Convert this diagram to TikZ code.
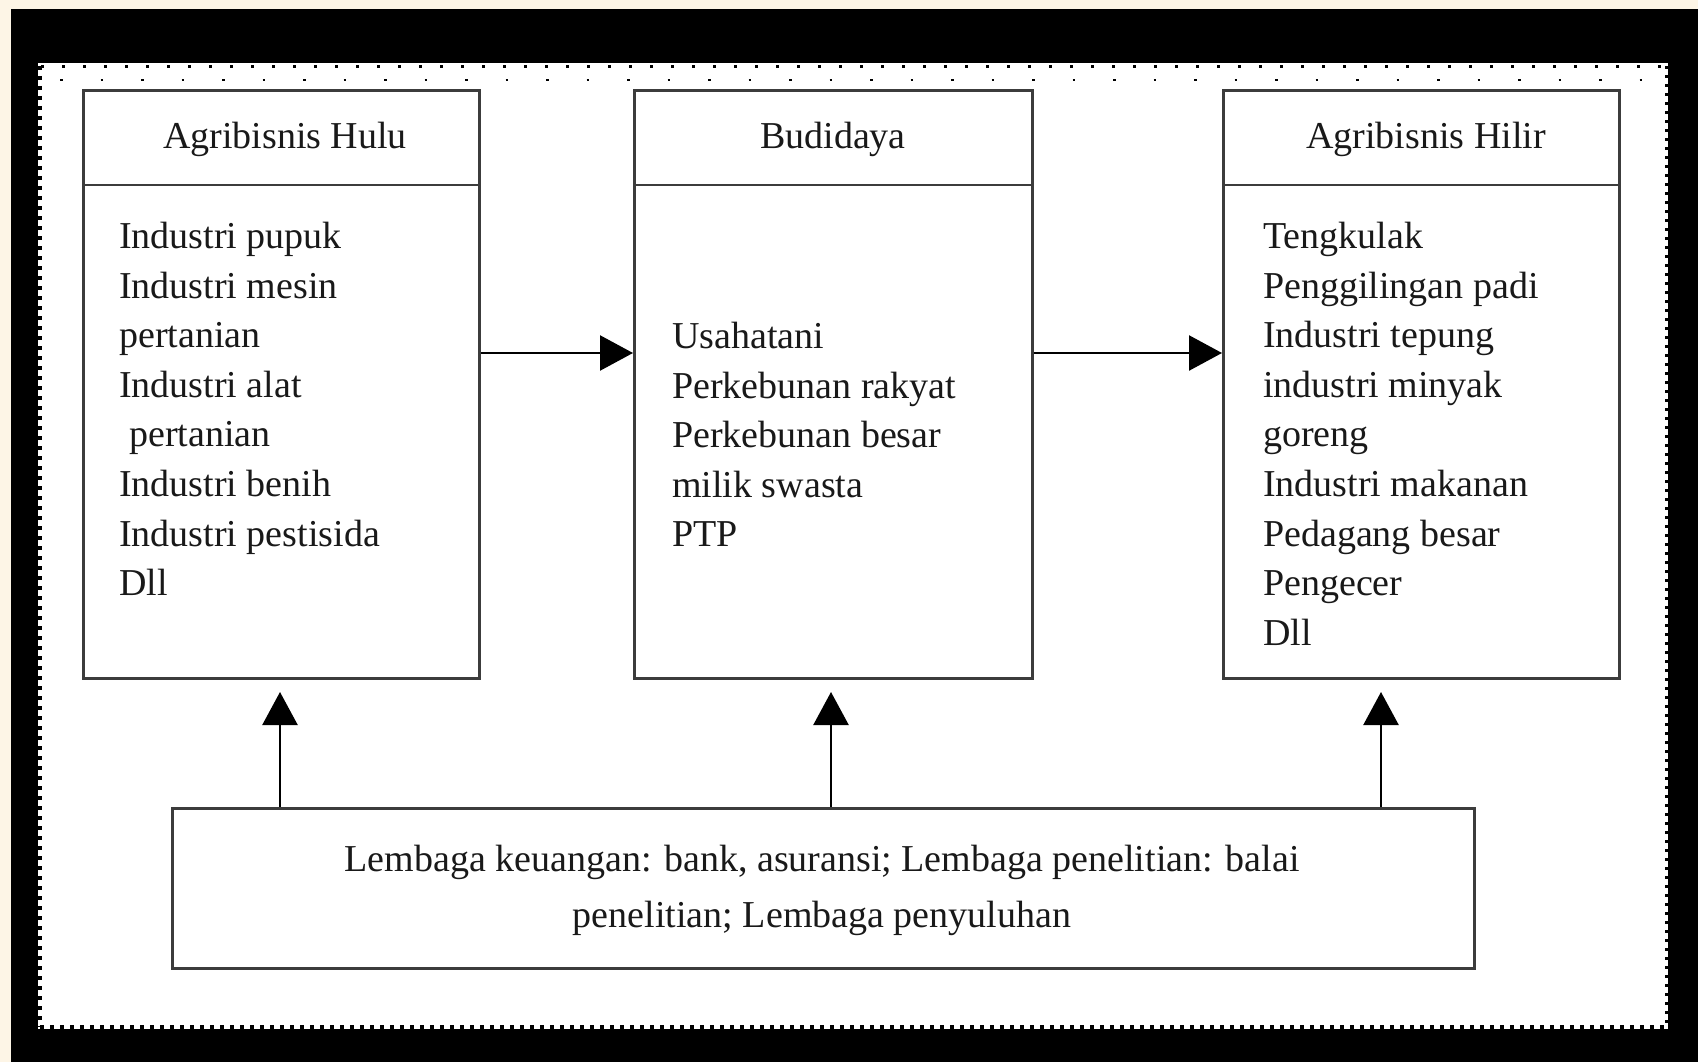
\documentclass[tikz,border=0pt]{standalone}
\usepackage{fontspec}
\setmainfont{Liberation Serif}
\usetikzlibrary{arrows.meta}
\definecolor{cream}{RGB}{253,245,230}
\definecolor{boxline}{RGB}{60,60,60}
\definecolor{txt}{RGB}{25,25,25}
\begin{document}
\begin{tikzpicture}[x=1pt,y=-1pt,
  boxframe/.style={draw=boxline,line width=2.8pt,fill=white},
  divider/.style={draw=boxline,line width=2.8pt},
  head/.style={inner sep=0pt,text=txt,font=\fontsize{38}{49.6}\selectfont},
  body/.style={inner sep=0pt,anchor=north west,align=left,text=txt,font=\fontsize{38}{49.6}\selectfont},
  conn/.style={draw=black,line width=2.4pt,-{Triangle[length=33pt,width=35pt]}},
  teeth/.style={draw=black,line width=6pt,dash pattern=on 4pt off 6pt},
  dots/.style={draw=black,line width=3pt,dash pattern=on 3pt off 18pt}
]
\useasboundingbox (0,0) rectangle (1698,1062);
% background frame
\fill[cream] (0,0) rectangle (1698,1062);
\fill[black] (11,9) rectangle (1698,1062);
\fill[white] (38,63) rectangle (1668,1029);
% dotted border
\draw[dots] (41,67) -- (1666,67);
\draw[draw=black,line width=2.5pt,dash pattern=on 2.5pt off 38pt] (60,80) -- (1660,80);
\draw[teeth] (39,66) -- (39,1027);
\draw[teeth] (40,1028) -- (1667,1028);
\draw[draw=black,line width=4pt,dash pattern=on 3pt off 6pt] (1667,66) -- (1667,1027);

% upper boxes
\node[boxframe,minimum width=396pt,minimum height=588pt,anchor=north west,inner sep=0pt] (hulu) at (82,89) {};
\node[boxframe,minimum width=398pt,minimum height=588pt,anchor=north west,inner sep=0pt] (budi) at (633,89) {};
\node[boxframe,minimum width=396pt,minimum height=588pt,anchor=north west,inner sep=0pt] (hilir) at (1222,89) {};
\draw[divider] (hulu.west |- 0,185) -- (hulu.east |- 0,185);
\draw[divider] (budi.west |- 0,185) -- (budi.east |- 0,185);
\draw[divider] (hilir.west |- 0,185) -- (hilir.east |- 0,185);

% headers
\node[head] (hhulu) at (285,139) {Agribisnis Hulu};
\node[head] (hbudi) at (833,139) {Budidaya};
\node[head] (hhilir) at (1426,139) {Agribisnis Hilir};

% body texts
\node[body] (thulu) at (119,222) {Industri pupuk\\Industri mesin\\pertanian\\Industri alat\\\hspace*{10pt}pertanian\\Industri benih\\Industri pestisida\\Dll};
\node[body] (tbudi) at (672,322) {Usahatani\\Perkebunan rakyat\\Perkebunan besar\\milik swasta\\PTP};
\node[body] (thilir) at (1263,222) {Tengkulak\\Penggilingan padi\\Industri tepung\\industri minyak\\goreng\\Industri makanan\\Pedagang besar\\Pengecer\\Dll};

% bottom box
\node[boxframe,minimum width=1302pt,minimum height=160pt,anchor=north west,inner sep=0pt] (lemb) at (171,807) {};
\node[inner sep=0pt,align=center,text=txt,font=\fontsize{38}{56}\selectfont] (tlemb) at (822,890)
  {Lembaga keuangan: bank, asuransi; Lembaga penelitian: balai\\penelitian; Lembaga penyuluhan};

% horizontal arrows
\draw[conn] (hulu.east |- 0,353) -- (budi.west |- 0,353);
\draw[conn] (budi.east |- 0,353) -- (hilir.west |- 0,353);

% vertical arrows
\coordinate (tip1) at (280,692);
\coordinate (tip2) at (831,692);
\coordinate (tip3) at (1381,692);
\draw[conn] (tip1 |- lemb.north) -- (tip1);
\draw[conn] (tip2 |- lemb.north) -- (tip2);
\draw[conn] (tip3 |- lemb.north) -- (tip3);
\end{tikzpicture}
\end{document}
